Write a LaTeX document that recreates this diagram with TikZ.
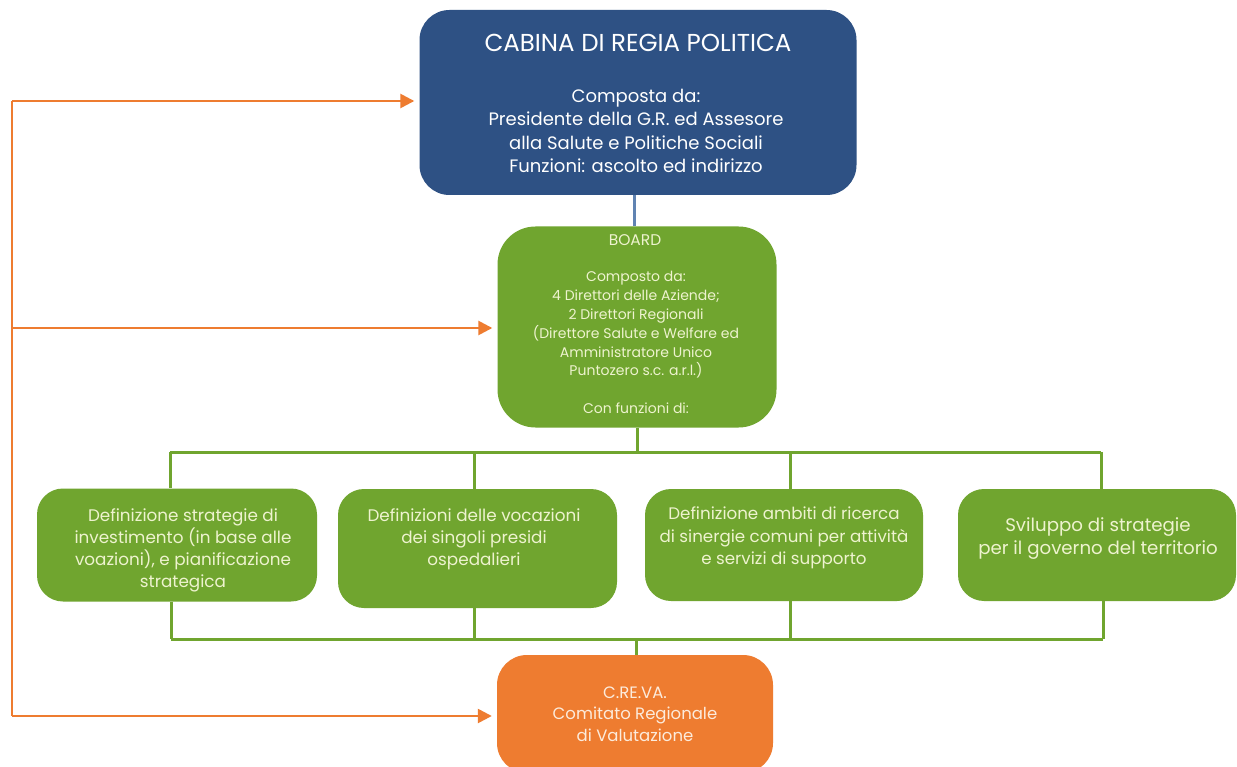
\documentclass[tikz,border=0pt]{standalone}
\usepackage{fontspec}
\setmainfont{Poppins}
\usetikzlibrary{arrows.meta}
\definecolor{navy}{HTML}{2E5184}
\definecolor{leaf}{HTML}{70A52F}
\definecolor{tang}{HTML}{EE7C30}
\definecolor{steel}{HTML}{6083B2}
\definecolor{cream}{HTML}{EEF3CF}
\definecolor{peach}{HTML}{FCEBDC}
\begin{document}
\begin{tikzpicture}[x=1pt,y=-1pt,
  panel/.style={rounded corners=#1, inner sep=0pt, draw=none},
  txt/.style={align=center, inner sep=0pt},
  gline/.style={draw=leaf, line width=3pt},
  oline/.style={draw=tang, line width=2.5pt},
  oarrow/.style={oline, -{Triangle[length=14pt,width=14pt]}, shorten >=5pt}]
\clip (0,0) rectangle (1237,767);
\fill[white] (0,0) rectangle (1237,767);

% boxes
\node[panel=30pt, fill=navy, minimum width=437pt, minimum height=185pt] (cab) at (638,102.5) {};
\node[panel=38pt, fill=leaf, minimum width=279pt, minimum height=201pt] (board) at (637,327) {};
\node[panel=26pt, fill=leaf, minimum width=280pt, minimum height=113pt] (b1) at (177,545) {};
\node[panel=26pt, fill=leaf, minimum width=279pt, minimum height=119pt] (b2) at (477.5,548.5) {};
\node[panel=26pt, fill=leaf, minimum width=278pt, minimum height=112pt] (b3) at (784,545) {};
\node[panel=26pt, fill=leaf, minimum width=278pt, minimum height=112pt] (b4) at (1097,545) {};
\node[panel=30pt, fill=tang, minimum width=276pt, minimum height=118pt] (creva) at (635,714) {};

% texts
\node[txt, text=white, font=\fontsize{24.5}{28}\selectfont] (cabt) at (638,43) {CABINA DI REGIA POLITICA};
\node[txt, text=white, font=\fontsize{18}{23.3}\selectfont] (cabb) at (636,131)
  {Composta da:\\Presidente della G.R. ed Assesore\\alla Salute e Politiche Sociali\\Funzioni: ascolto ed indirizzo};
\node[txt, text=cream, font=\fontsize{15.5}{18}\selectfont] (boardt) at (635,240) {BOARD};
\node[txt, text=cream, font=\fontsize{14}{18.8}\selectfont] (boardb) at (636,325)
  {Composto da:\\4 Direttori delle Aziende;\\2 Direttori Regionali\\(Direttore Salute e Welfare ed\\Amministratore Unico\\Puntozero s.c. a.r.l.)};
\node[txt, text=cream, font=\fontsize{14}{18.8}\selectfont] (boardf) at (636,408) {Con funzioni di:};
\node[txt, text=cream, font=\fontsize{16.8}{22}\selectfont] (b1t) at (183,550)
  {Definizione strategie di\\investimento (in base alle\\voazioni), e pianificazione\\strategica};
\node[txt, text=cream, font=\fontsize{16.8}{22}\selectfont] (b2t) at (474,539)
  {Definizioni delle vocazioni\\dei singoli presidi\\ospedalieri};
\node[txt, text=cream, font=\fontsize{16.7}{22.5}\selectfont] (b3t) at (784,538)
  {Definizione ambiti di ricerca\\di sinergie comuni per attività\\e servizi di supporto};
\node[txt, text=cream, font=\fontsize{18.2}{23}\selectfont] (b4t) at (1098,538.5)
  {Sviluppo di strategie\\per il governo del territorio};
\node[txt, text=peach, font=\fontsize{16.5}{21.5}\selectfont] (crevat) at (635,714)
  {C.RE.VA.\\Comitato Regionale\\di Valutazione};

% green tree
\coordinate (s0) at (634,0);
\coordinate (s1) at (636,639);
\coordinate (t1) at (170,452);
\coordinate (t2) at (474,452);
\coordinate (t3) at (790,452);
\coordinate (t4) at (1101,452);
\coordinate (u1) at (171,639);
\coordinate (u2) at (474,639);
\coordinate (u3) at (790,639);
\coordinate (u4) at (1103,639);
\draw[steel, line width=3pt] (board.north -| s0) -- (cab.south -| s0);
\draw[gline] (board.south) -- (board.south |- t1);
\draw[gline] (t1) -- (t4);
\draw[gline] (t1) -- (t1 |- b1.north);
\draw[gline] (t2) -- (t2 |- b2.north);
\draw[gline] (t3) -- (t3 |- b3.north);
\draw[gline] (t4) -- (t4 |- b4.north);
\draw[gline] (u1 |- b1.south) -- (u1);
\draw[gline] (u2 |- b2.south) -- (u2);
\draw[gline] (u3 |- b3.south) -- (u3);
\draw[gline] (u4 |- b4.south) -- (u4);
\draw[gline] (u1) -- (u4);
\draw[gline] (creva.north -| s1) -- (s1);

% orange feedback lines
\coordinate (o1) at (12,101);
\coordinate (o2) at (12,328);
\coordinate (o3) at (12,716);
\draw[oline] (o1) -- (o3);
\draw[oarrow] (o1) -- (cab.west |- o1);
\draw[oarrow] (o2) -- (board.west |- o2);
\draw[oarrow] (o3) -- (creva.west |- o3);
\end{tikzpicture}
\end{document}
